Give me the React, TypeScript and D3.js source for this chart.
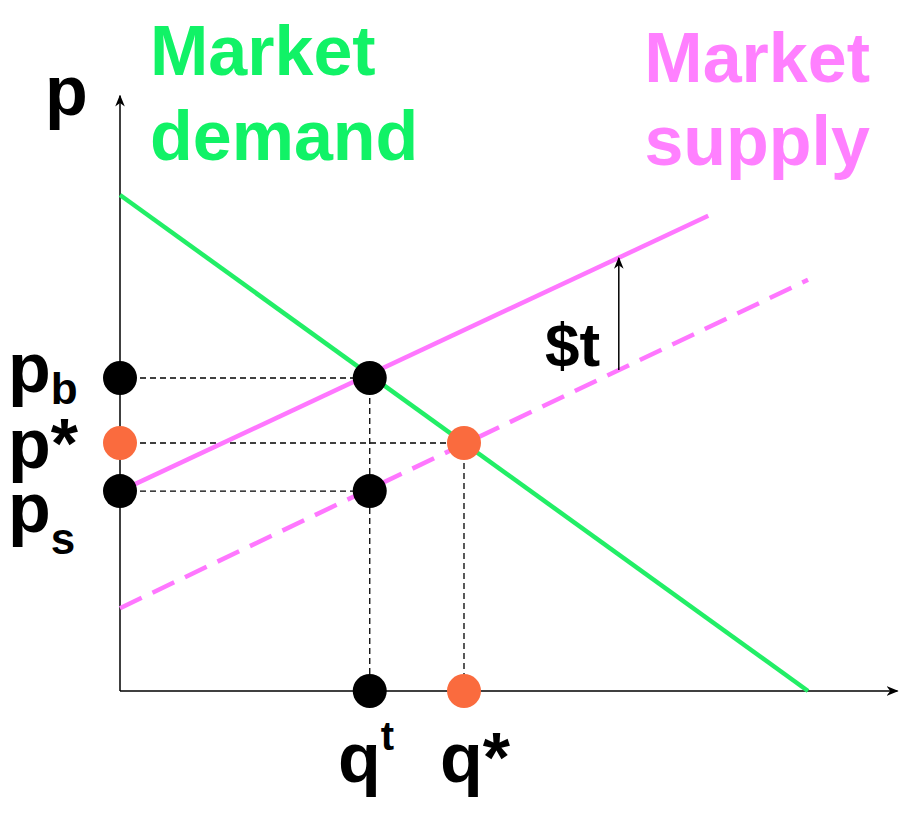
import React from 'react';
import * as d3 from 'd3';

// quantities / prices in chart units (0..100)
const demandLine = [[0, 100], [100, 0]];
const supplyTaxed = [[0, 40.3], [85.5, 95.8]];
const supplyOriginal = [[0, 16.7], [100, 82.9]];
const quantities = { qt: 36.3, qStar: 50 };
const prices = { pb: 63.1, pStar: 50, ps: 40.3 };
const taxArrow = { q: 72.5, from: 64.7, to: 87.3 };
const blackDots = [[0, 63.1], [36.3, 63.1], [0, 40.3], [36.3, 40.3], [36.3, 0]];
const orangeDots = [[0, 50], [50, 50], [50, 0]];

const App: React.FC = () => {
  const x = d3.scaleLinear().domain([0, 100]).range([120, 808]);
  const y = d3.scaleLinear().domain([0, 100]).range([691, 195]);
  const line = d3.line<number[]>().x(d => x(d[0])).y(d => y(d[1]));
  const font = 'Liberation Sans, Arial, sans-serif';

  return (
    <svg width={901} height={825} style={{ position: 'absolute', left: 0, top: 0 }} fontFamily={font} fontWeight="bold">
      <defs>
        <marker id="ah" viewBox="0 0 10 10" refX="9" refY="5" markerWidth="8" markerHeight="8" orient="auto">
          <path d="M0,1 L10,5 L0,9 L3,5 Z" fill="black" />
        </marker>
      </defs>
      {/* axes */}
      <line x1={x(0)} y1={y(0)} x2={x(0)} y2={y(120)} stroke="black" strokeWidth={1.5} markerEnd="url(#ah)" />
      <line x1={x(0)} y1={y(0)} x2={x(113)} y2={y(0)} stroke="black" strokeWidth={1.5} markerEnd="url(#ah)" />
      {/* dashed guides */}
      <g stroke="black" strokeWidth={1.3} strokeDasharray="6,4">
        <line x1={x(0)} y1={y(prices.pb)} x2={x(quantities.qt)} y2={y(prices.pb)} />
        <line x1={x(0)} y1={y(prices.pStar)} x2={x(quantities.qStar)} y2={y(prices.pStar)} />
        <line x1={x(0)} y1={y(prices.ps)} x2={x(quantities.qt)} y2={y(prices.ps)} />
        <line x1={x(quantities.qt)} y1={y(prices.pb)} x2={x(quantities.qt)} y2={y(0)} />
        <line x1={x(quantities.qStar)} y1={y(prices.pStar)} x2={x(quantities.qStar)} y2={y(0)} />
      </g>
      <path d={line(supplyOriginal as any)!} stroke="#ff77ff" strokeWidth={4.5} strokeDasharray="24,12" fill="none" />
      <path d={line(demandLine as any)!} stroke="#22ee66" strokeWidth={4.5} fill="none" />
      <path d={line(supplyTaxed as any)!} stroke="#ff77ff" strokeWidth={4.5} fill="none" />
      <line x1={x(taxArrow.q)} y1={y(taxArrow.from)} x2={x(taxArrow.q)} y2={y(taxArrow.to)} stroke="black" strokeWidth={1.5} markerEnd="url(#ah)" />
      {blackDots.map((d, i) => <circle key={'b' + i} cx={x(d[0])} cy={y(d[1])} r={17} fill="black" />)}
      {orangeDots.map((d, i) => <circle key={'o' + i} cx={x(d[0])} cy={y(d[1])} r={17} fill="#fa6b3e" />)}
      {/* labels */}
      <text x={150} y={75} fontSize={70} fill="#11f266">Market</text>
      <text x={150} y={160} fontSize={70} fill="#11f266">demand</text>
      <text x={870} y={82} fontSize={70} fill="#ff80ff" textAnchor="end">Market</text>
      <text x={870} y={165} fontSize={70} fill="#ff80ff" textAnchor="end">supply</text>
      <text x={45} y={115} fontSize={70}>p</text>
      <text x={8} y={392} fontSize={70}>p<tspan fontSize={44} dy={12}>b</tspan></text>
      <text x={8} y={468} fontSize={70}>p*</text>
      <text x={8} y={532} fontSize={70}>p<tspan fontSize={44} dy={22}>s</tspan></text>
      <text x={338} y={782} fontSize={70}>q<tspan fontSize={40} dy={-32}>t</tspan></text>
      <text x={440} y={782} fontSize={70}>q*</text>
      <text x={545} y={366} fontSize={62}>$t</text>
    </svg>
  );
};

export default App;
